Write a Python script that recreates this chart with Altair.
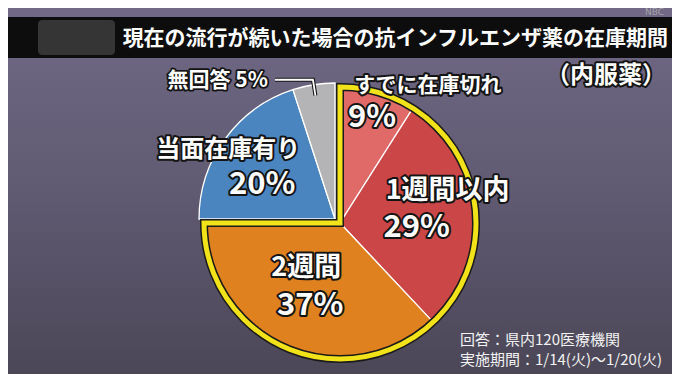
import math
import altair as alt
import pandas as pd

# ---------------- data ----------------
categories = ["すでに在庫切れ", "1週間以内", "2週間", "当面在庫有り", "無回答"]
values = [9, 29, 37, 20, 5]
pct_labels = ["9%", "29%", "37%", "20%", "5%"]
colors = ["#e06a68", "#cb4646", "#de811e", "#4a85c0", "#b4b4b6"]
highlight = [True, True, True, False, False]

title_text = "現在の流行が続いた場合の抗インフルエンザ薬の在庫期間"
subtitle_text = "（内服薬）"
note_lines = ["回答：県内120医療機関", "実施期間：1/14(火)～1/20(火)"]

# ---------------- layout ----------------
W, H = 664, 366
FONT = "Noto Sans CJK JP"
BASE_C = (327, 211)
EXPL_C = (332, 215)
R = 136
TWO_PI = 2 * math.pi

# label layout per slice: anchor radius, name dx/dy/size, pct dx/dy/size
label_layout = [
    (111, 57, -30, 21, 1, 2, 31),
    (80, 28, -24, 27, -3, 13, 31),
    (85, 0, -33, 27, 4, 5, 31),
    (85, -38, -19, 24, -4, 16, 31),
]

start = []
acc = 0
for v in values:
    start.append(acc)
    acc += v
df = pd.DataFrame({
    "idx": list(range(len(categories))),
    "category": categories,
    "value": values,
    "pct": pct_labels,
    "start": start,
    "end": [s + v for s, v in zip(start, values)],
    "color": colors,
    "hl": highlight,
})
df["mid"] = (df["start"] + df["end"]) / 2

tscale = alt.Scale(domain=[0, 100], range=[0, TWO_PI])
one = alt.Data(values=[{"a": 1}])

layers = []

# background gradient
layers.append(
    alt.Chart(one).mark_rect(
        color=alt.Gradient(
            gradient="linear",
            stops=[alt.GradientStop(color="#716986", offset=0),
                   alt.GradientStop(color="#605a72", offset=0.5),
                   alt.GradientStop(color="#4b4757", offset=1)],
            x1=0, x2=0, y1=0, y2=1,
        )
    ).encode(x=alt.value(0), x2=alt.value(W), y=alt.value(0), y2=alt.value(H))
)
# title banner
layers.append(
    alt.Chart(one).mark_rect(color="#0d0d0d").encode(
        x=alt.value(0), x2=alt.value(W), y=alt.value(9), y2=alt.value(50))
)
layers.append(
    alt.Chart(one).mark_rect(color="#3a3a3a", cornerRadius=4, opacity=0.9).encode(
        x=alt.value(30), x2=alt.value(107), y=alt.value(12), y2=alt.value(47))
)
layers.append(
    alt.Chart(one).mark_text(font=FONT, fontSize=21, fontWeight="bold", color="white",
                             align="right", baseline="middle").encode(
        x=alt.value(660), y=alt.value(31), text=alt.value(title_text))
)
layers.append(
    alt.Chart(one).mark_text(font="DejaVu Sans", fontSize=9, color="#bbbbbb", opacity=0.7,
                             align="right", baseline="middle").encode(
        x=alt.value(656), y=alt.value(4), text=alt.value("NBC"))
)

# pie slices
for hl, (cx, cy) in [(False, BASE_C), (True, EXPL_C)]:
    layers.append(
        alt.Chart(df).transform_filter(alt.datum.hl == hl).mark_arc(
            outerRadius=R, stroke="white", strokeWidth=1.3
        ).encode(
            theta=alt.Theta("start:Q", scale=tscale),
            theta2="end:Q",
            color=alt.Color("color:N", scale=None),
            x=alt.value(cx), y=alt.value(cy),
        )
    )

# yellow outline around highlighted group
hl_total = sum(v for v, h in zip(values, highlight) if h)
grp = alt.Data(values=[{"s": 0, "e": hl_total}])
for col, sw in [("#1a1a1a", 8), ("#f2e21a", 5)]:
    layers.append(
        alt.Chart(grp).mark_arc(outerRadius=R, fillOpacity=0, stroke=col, strokeWidth=sw,
                                strokeJoin="miter").encode(
            theta=alt.Theta("s:Q", scale=tscale), theta2="e:Q",
            x=alt.value(EXPL_C[0]), y=alt.value(EXPL_C[1]))
    )


def outlined_text(i, field, size, r, dx, dy, center, align="center", sw=4):
    out = []
    for fill, stroke in [("#141414", "#141414"), ("white", None)]:
        kw = dict(font=FONT, fontSize=size, fontWeight="bold", align=align,
                  baseline="middle", dx=dx, dy=dy, fill=fill)
        if stroke:
            kw.update(stroke=stroke, strokeWidth=sw, strokeJoin="round")
        out.append(
            alt.Chart(df).transform_filter(alt.datum.idx == i).mark_text(**kw).encode(
                theta=alt.Theta("mid:Q", scale=tscale),
                radius=alt.value(r),
                x=alt.value(center[0]), y=alt.value(center[1]),
                text=alt.Text(field),
            )
        )
    return out


for i, (r, ndx, ndy, ns, pdx, pdy, ps) in enumerate(label_layout):
    c = EXPL_C if highlight[i] else BASE_C
    layers += outlined_text(i, "category:N", ns, r, ndx, ndy, c)
    layers += outlined_text(i, "pct:N", ps, r, pdx, pdy, c)

# 無回答 label with leader line
gi = 4
gmid = (start[gi] + values[gi] / 2) / 100 * TWO_PI
p_in = (BASE_C[0] + 125 * math.sin(gmid), BASE_C[1] - 125 * math.cos(gmid))
p_el = (BASE_C[0] + 141 * math.sin(gmid), BASE_C[1] - 141 * math.cos(gmid))
leader = pd.DataFrame({"x": [p_in[0], p_el[0], p_el[0] - 38],
                       "y": [p_in[1], p_el[1], p_el[1]],
                       "o": [0, 1, 2]})
for col, sw in [("#141414", 4), ("white", 1.8)]:
    layers.append(
        alt.Chart(leader).mark_line(color=col, strokeWidth=sw, strokeJoin="miter").encode(
            x=alt.X("x:Q", scale=None), y=alt.Y("y:Q", scale=None), order="o:Q")
    )
gdf = df[df.idx == gi].assign(lab=lambda d: d["category"] + " " + d["pct"])
for fill, stroke in [("#141414", "#141414"), ("white", None)]:
    kw = dict(font=FONT, fontSize=21, fontWeight="bold", align="right",
              baseline="middle", dx=-45, dy=1, fill=fill)
    if stroke:
        kw.update(stroke=stroke, strokeWidth=3.5, strokeJoin="round")
    layers.append(
        alt.Chart(gdf).mark_text(**kw).encode(
            theta=alt.Theta("mid:Q", scale=tscale), radius=alt.value(141),
            x=alt.value(BASE_C[0]), y=alt.value(BASE_C[1]), text="lab:N")
    )

# subtitle
for fill, stroke in [("#141414", "#141414"), ("white", None)]:
    kw = dict(font=FONT, fontSize=24, fontWeight="bold", align="right",
              baseline="middle", fill=fill)
    if stroke:
        kw.update(stroke=stroke, strokeWidth=4, strokeJoin="round")
    layers.append(alt.Chart(one).mark_text(**kw).encode(
        x=alt.value(658), y=alt.value(68), text=alt.value(subtitle_text)))

# notes
for k, line in enumerate(note_lines):
    layers.append(
        alt.Chart(one).mark_text(font=FONT, fontSize=15, color="#f2f2f2", align="left",
                                 baseline="middle").encode(
            x=alt.value(452), y=alt.value(332 + 20 * k), text=alt.value(line))
    )

chart = alt.layer(*layers).properties(
    width=W, height=H, padding=0, background="#5e586c",
    autosize=alt.AutoSizeParams(type="fit", contains="padding"),
).configure_view(stroke=None)

chart.save("out.html", embed_options={"renderer": "svg", "actions": False})
